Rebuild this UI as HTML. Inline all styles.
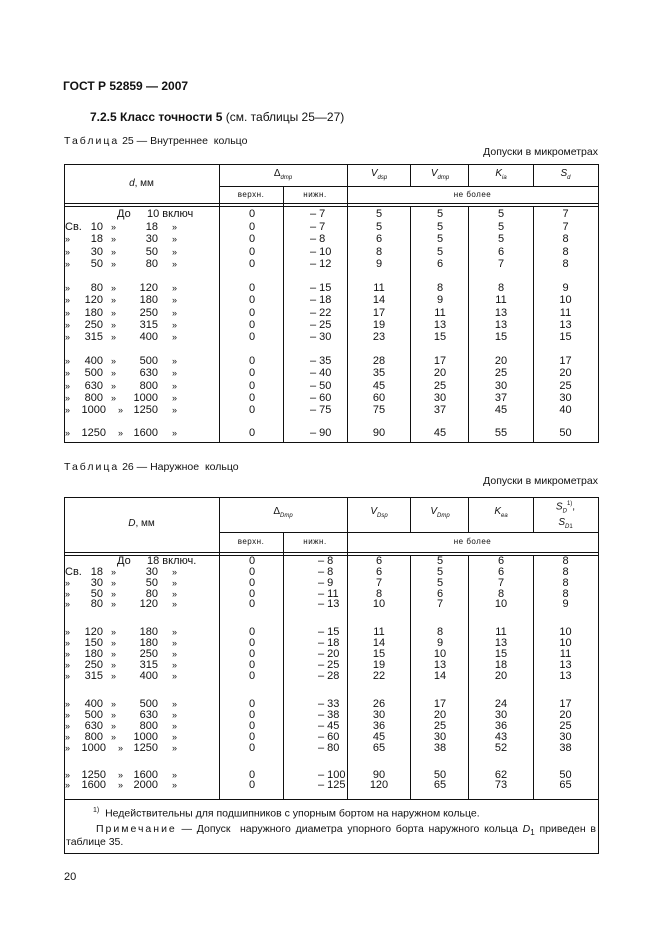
<!DOCTYPE html>
<html><head><meta charset="utf-8"><style>
body{margin:0;width:661px;height:936px;background:#fff;position:relative;font-family:"Liberation Sans",sans-serif;color:#111;overflow:hidden}
.t{position:absolute;white-space:nowrap;font-size:11px;line-height:14px}
.h{position:absolute;background:#111;height:1px}
.v{position:absolute;background:#111;width:1px}
.r{position:absolute;left:0;width:661px;height:14px;font-size:11px;line-height:14px}
.r span{position:absolute;white-space:nowrap}
.a{left:65px}.n1{left:70px;width:33px;text-align:right}.q1{left:111px}.n2{left:118px;width:40px;text-align:right}.q2{left:172px}
.v1{left:221px;width:62px;text-align:center}.v2{left:310px}.w2{left:318px}
.c3{left:347px;width:64px;text-align:center}.c4{left:411px;width:58px;text-align:center}.c5{left:469px;width:64px;text-align:center}.c6{left:533px;width:65px;text-align:center}
.q{font-size:9px}
.sm{position:absolute;font-size:8px;letter-spacing:0.5px;white-space:nowrap;text-align:center}
.hd{position:absolute;font-size:10px;text-align:center;white-space:nowrap}
sub{font-size:6px}
</style></head><body>
<div class="t" style="left:63px;top:79px;font-weight:bold;font-size:12px">ГОСТ Р 52859 — 2007</div>
<div class="t" style="left:90px;top:110px;font-size:12px"><b>7.2.5 Класс точности 5</b> (см. таблицы 25—27)</div>
<div class="t" style="left:64px;top:134px;font-size:10.5px"><span style="letter-spacing:2px">Таблица</span> 25 — Внутреннее&nbsp; кольцо</div>
<div class="t" style="right:63px;top:145px;font-size:10.5px">Допуски в микрометрах</div>

<div class="h" style="left:64px;width:535px;top:164px"></div>
<div class="h" style="left:219px;width:380px;top:186px"></div>
<div class="h" style="left:64px;width:535px;top:203px"></div>
<div class="h" style="left:64px;width:535px;top:206px"></div>
<div class="h" style="left:64px;width:535px;top:442px"></div>
<div class="v" style="left:64px;top:164px;height:279px"></div>
<div class="v" style="left:598px;top:164px;height:279px"></div>
<div class="v" style="left:219px;top:164px;height:279px"></div>
<div class="v" style="left:283px;top:186px;height:257px"></div>
<div class="v" style="left:347px;top:164px;height:279px"></div>
<div class="v" style="left:410px;top:164px;height:22px"></div><div class="v" style="left:410px;top:206px;height:237px"></div>
<div class="v" style="left:468px;top:164px;height:22px"></div><div class="v" style="left:468px;top:206px;height:237px"></div>
<div class="v" style="left:533px;top:164px;height:22px"></div><div class="v" style="left:533px;top:206px;height:237px"></div>
<div class="hd" style="left:64px;width:155px;top:178px"><i>d</i>, мм</div>
<div class="hd" style="left:219px;width:128px;top:168px">Δ<sub><i>dmp</i></sub></div>
<div class="hd" style="left:347px;width:64px;top:168px"><i>V</i><sub><i>dsp</i></sub></div>
<div class="hd" style="left:411px;width:58px;top:168px"><i>V</i><sub><i>dmp</i></sub></div>
<div class="hd" style="left:469px;width:64px;top:168px"><i>K</i><sub><i>ia</i></sub></div>
<div class="hd" style="left:533px;width:65px;top:168px"><i>S</i><sub><i>d</i></sub></div>
<div class="sm" style="left:219px;width:64px;top:190px">верхн.</div>
<div class="sm" style="left:283px;width:64px;top:190px">нижн.</div>
<div class="sm" style="left:347px;width:251px;top:190px">не более</div>

<div class="r" style="top:207px"><span style="left:117px">До</span><span style="left:147px">10 включ</span><span class="v1">0</span><span class="v2">– 7</span><span class="c3">5</span><span class="c4">5</span><span class="c5">5</span><span class="c6">7</span></div>
<div class="r" style="top:220px"><span class="a">Св.</span><span class="n1">10</span><span class="q1 q">»</span><span class="n2">18</span><span class="q2 q">»</span><span class="v1">0</span><span class="v2">– 7</span><span class="c3">5</span><span class="c4">5</span><span class="c5">5</span><span class="c6">7</span></div>
<div class="r" style="top:232px"><span class="a q">»</span><span class="n1">18</span><span class="q1 q">»</span><span class="n2">30</span><span class="q2 q">»</span><span class="v1">0</span><span class="v2">– 8</span><span class="c3">6</span><span class="c4">5</span><span class="c5">5</span><span class="c6">8</span></div>
<div class="r" style="top:245px"><span class="a q">»</span><span class="n1">30</span><span class="q1 q">»</span><span class="n2">50</span><span class="q2 q">»</span><span class="v1">0</span><span class="v2">– 10</span><span class="c3">8</span><span class="c4">5</span><span class="c5">6</span><span class="c6">8</span></div>
<div class="r" style="top:257px"><span class="a q">»</span><span class="n1">50</span><span class="q1 q">»</span><span class="n2">80</span><span class="q2 q">»</span><span class="v1">0</span><span class="v2">– 12</span><span class="c3">9</span><span class="c4">6</span><span class="c5">7</span><span class="c6">8</span></div>

<div class="r" style="top:281px"><span class="a q">»</span><span class="n1">80</span><span class="q1 q">»</span><span class="n2">120</span><span class="q2 q">»</span><span class="v1">0</span><span class="v2">– 15</span><span class="c3">11</span><span class="c4">8</span><span class="c5">8</span><span class="c6">9</span></div>
<div class="r" style="top:293px"><span class="a q">»</span><span class="n1">120</span><span class="q1 q">»</span><span class="n2">180</span><span class="q2 q">»</span><span class="v1">0</span><span class="v2">– 18</span><span class="c3">14</span><span class="c4">9</span><span class="c5">11</span><span class="c6">10</span></div>
<div class="r" style="top:306px"><span class="a q">»</span><span class="n1">180</span><span class="q1 q">»</span><span class="n2">250</span><span class="q2 q">»</span><span class="v1">0</span><span class="v2">– 22</span><span class="c3">17</span><span class="c4">11</span><span class="c5">13</span><span class="c6">11</span></div>
<div class="r" style="top:318px"><span class="a q">»</span><span class="n1">250</span><span class="q1 q">»</span><span class="n2">315</span><span class="q2 q">»</span><span class="v1">0</span><span class="v2">– 25</span><span class="c3">19</span><span class="c4">13</span><span class="c5">13</span><span class="c6">13</span></div>
<div class="r" style="top:330px"><span class="a q">»</span><span class="n1">315</span><span class="q1 q">»</span><span class="n2">400</span><span class="q2 q">»</span><span class="v1">0</span><span class="v2">– 30</span><span class="c3">23</span><span class="c4">15</span><span class="c5">15</span><span class="c6">15</span></div>

<div class="r" style="top:354px"><span class="a q">»</span><span class="n1">400</span><span class="q1 q">»</span><span class="n2">500</span><span class="q2 q">»</span><span class="v1">0</span><span class="v2">– 35</span><span class="c3">28</span><span class="c4">17</span><span class="c5">20</span><span class="c6">17</span></div>
<div class="r" style="top:366px"><span class="a q">»</span><span class="n1">500</span><span class="q1 q">»</span><span class="n2">630</span><span class="q2 q">»</span><span class="v1">0</span><span class="v2">– 40</span><span class="c3">35</span><span class="c4">20</span><span class="c5">25</span><span class="c6">20</span></div>
<div class="r" style="top:379px"><span class="a q">»</span><span class="n1">630</span><span class="q1 q">»</span><span class="n2">800</span><span class="q2 q">»</span><span class="v1">0</span><span class="v2">– 50</span><span class="c3">45</span><span class="c4">25</span><span class="c5">30</span><span class="c6">25</span></div>
<div class="r" style="top:391px"><span class="a q">»</span><span class="n1">800</span><span class="q1 q">»</span><span class="n2">1000</span><span class="q2 q">»</span><span class="v1">0</span><span class="v2">– 60</span><span class="c3">60</span><span class="c4">30</span><span class="c5">37</span><span class="c6">30</span></div>
<div class="r" style="top:403px"><span class="a q">»</span><span class="n1" style="width:36px">1000</span><span class="q1 q" style="left:118px">»</span><span class="n2">1250</span><span class="q2 q">»</span><span class="v1">0</span><span class="v2">– 75</span><span class="c3">75</span><span class="c4">37</span><span class="c5">45</span><span class="c6">40</span></div>

<div class="r" style="top:426px"><span class="a q">»</span><span class="n1" style="width:36px">1250</span><span class="q1 q" style="left:118px">»</span><span class="n2">1600</span><span class="q2 q">»</span><span class="v1">0</span><span class="v2">– 90</span><span class="c3">90</span><span class="c4">45</span><span class="c5">55</span><span class="c6">50</span></div>

<div class="t" style="left:64px;top:460px;font-size:10.5px"><span style="letter-spacing:2px">Таблица</span> 26 — Наружное&nbsp; кольцо</div>
<div class="t" style="right:63px;top:474px;font-size:10.5px">Допуски в микрометрах</div>

<div class="h" style="left:64px;width:535px;top:497px"></div>
<div class="h" style="left:219px;width:380px;top:532px"></div>
<div class="h" style="left:64px;width:535px;top:552px"></div>
<div class="h" style="left:64px;width:535px;top:555px"></div>
<div class="h" style="left:64px;width:535px;top:799px"></div>
<div class="h" style="left:64px;width:535px;top:853px"></div>
<div class="v" style="left:64px;top:497px;height:357px"></div>
<div class="v" style="left:598px;top:497px;height:357px"></div>
<div class="v" style="left:219px;top:497px;height:302px"></div>
<div class="v" style="left:283px;top:532px;height:267px"></div>
<div class="v" style="left:347px;top:497px;height:302px"></div>
<div class="v" style="left:410px;top:497px;height:35px"></div><div class="v" style="left:410px;top:555px;height:244px"></div>
<div class="v" style="left:468px;top:497px;height:35px"></div><div class="v" style="left:468px;top:555px;height:244px"></div>
<div class="v" style="left:533px;top:497px;height:35px"></div><div class="v" style="left:533px;top:555px;height:244px"></div>
<div class="hd" style="left:64px;width:155px;top:518px"><i>D</i>, мм</div>
<div class="hd" style="left:219px;width:128px;top:506px">Δ<sub><i>Dmp</i></sub></div>
<div class="hd" style="left:347px;width:64px;top:506px"><i>V</i><sub><i>Dsp</i></sub></div>
<div class="hd" style="left:411px;width:58px;top:506px"><i>V</i><sub><i>Dmp</i></sub></div>
<div class="hd" style="left:469px;width:64px;top:506px"><i>K</i><sub><i>ea</i></sub></div>
<div class="hd" style="left:533px;width:65px;top:498px;line-height:12px"><i>S</i><sub><i>D</i></sub><sup style="font-size:6px">1)</sup>,<br><i>S</i><sub><i>D</i>1</sub></div>
<div class="sm" style="left:219px;width:64px;top:537px">верхн.</div>
<div class="sm" style="left:283px;width:64px;top:537px">нижн.</div>
<div class="sm" style="left:347px;width:251px;top:537px">не более</div>

<div class="r" style="top:554px"><span style="left:117px">До</span><span style="left:147px">18 включ.</span><span class="v1">0</span><span class="w2">– 8</span><span class="c3">6</span><span class="c4">5</span><span class="c5">6</span><span class="c6">8</span></div>
<div class="r" style="top:565px"><span class="a">Св.</span><span class="n1">18</span><span class="q1 q">»</span><span class="n2">30</span><span class="q2 q">»</span><span class="v1">0</span><span class="w2">– 8</span><span class="c3">6</span><span class="c4">5</span><span class="c5">6</span><span class="c6">8</span></div>
<div class="r" style="top:576px"><span class="a q">»</span><span class="n1">30</span><span class="q1 q">»</span><span class="n2">50</span><span class="q2 q">»</span><span class="v1">0</span><span class="w2">– 9</span><span class="c3">7</span><span class="c4">5</span><span class="c5">7</span><span class="c6">8</span></div>
<div class="r" style="top:587px"><span class="a q">»</span><span class="n1">50</span><span class="q1 q">»</span><span class="n2">80</span><span class="q2 q">»</span><span class="v1">0</span><span class="w2">– 11</span><span class="c3">8</span><span class="c4">6</span><span class="c5">8</span><span class="c6">8</span></div>
<div class="r" style="top:597px"><span class="a q">»</span><span class="n1">80</span><span class="q1 q">»</span><span class="n2">120</span><span class="q2 q">»</span><span class="v1">0</span><span class="w2">– 13</span><span class="c3">10</span><span class="c4">7</span><span class="c5">10</span><span class="c6">9</span></div>

<div class="r" style="top:625px"><span class="a q">»</span><span class="n1">120</span><span class="q1 q">»</span><span class="n2">180</span><span class="q2 q">»</span><span class="v1">0</span><span class="w2">– 15</span><span class="c3">11</span><span class="c4">8</span><span class="c5">11</span><span class="c6">10</span></div>
<div class="r" style="top:636px"><span class="a q">»</span><span class="n1">150</span><span class="q1 q">»</span><span class="n2">180</span><span class="q2 q">»</span><span class="v1">0</span><span class="w2">– 18</span><span class="c3">14</span><span class="c4">9</span><span class="c5">13</span><span class="c6">10</span></div>
<div class="r" style="top:647px"><span class="a q">»</span><span class="n1">180</span><span class="q1 q">»</span><span class="n2">250</span><span class="q2 q">»</span><span class="v1">0</span><span class="w2">– 20</span><span class="c3">15</span><span class="c4">10</span><span class="c5">15</span><span class="c6">11</span></div>
<div class="r" style="top:658px"><span class="a q">»</span><span class="n1">250</span><span class="q1 q">»</span><span class="n2">315</span><span class="q2 q">»</span><span class="v1">0</span><span class="w2">– 25</span><span class="c3">19</span><span class="c4">13</span><span class="c5">18</span><span class="c6">13</span></div>
<div class="r" style="top:669px"><span class="a q">»</span><span class="n1">315</span><span class="q1 q">»</span><span class="n2">400</span><span class="q2 q">»</span><span class="v1">0</span><span class="w2">– 28</span><span class="c3">22</span><span class="c4">14</span><span class="c5">20</span><span class="c6">13</span></div>

<div class="r" style="top:697px"><span class="a q">»</span><span class="n1">400</span><span class="q1 q">»</span><span class="n2">500</span><span class="q2 q">»</span><span class="v1">0</span><span class="w2">– 33</span><span class="c3">26</span><span class="c4">17</span><span class="c5">24</span><span class="c6">17</span></div>
<div class="r" style="top:708px"><span class="a q">»</span><span class="n1">500</span><span class="q1 q">»</span><span class="n2">630</span><span class="q2 q">»</span><span class="v1">0</span><span class="w2">– 38</span><span class="c3">30</span><span class="c4">20</span><span class="c5">30</span><span class="c6">20</span></div>
<div class="r" style="top:719px"><span class="a q">»</span><span class="n1">630</span><span class="q1 q">»</span><span class="n2">800</span><span class="q2 q">»</span><span class="v1">0</span><span class="w2">– 45</span><span class="c3">36</span><span class="c4">25</span><span class="c5">36</span><span class="c6">25</span></div>
<div class="r" style="top:730px"><span class="a q">»</span><span class="n1">800</span><span class="q1 q">»</span><span class="n2">1000</span><span class="q2 q">»</span><span class="v1">0</span><span class="w2">– 60</span><span class="c3">45</span><span class="c4">30</span><span class="c5">43</span><span class="c6">30</span></div>
<div class="r" style="top:741px"><span class="a q">»</span><span class="n1" style="width:36px">1000</span><span class="q1 q" style="left:118px">»</span><span class="n2">1250</span><span class="q2 q">»</span><span class="v1">0</span><span class="w2">– 80</span><span class="c3">65</span><span class="c4">38</span><span class="c5">52</span><span class="c6">38</span></div>

<div class="r" style="top:768px"><span class="a q">»</span><span class="n1" style="width:36px">1250</span><span class="q1 q" style="left:118px">»</span><span class="n2">1600</span><span class="q2 q">»</span><span class="v1">0</span><span class="w2">– 100</span><span class="c3">90</span><span class="c4">50</span><span class="c5">62</span><span class="c6">50</span></div>
<div class="r" style="top:778px"><span class="a q">»</span><span class="n1" style="width:36px">1600</span><span class="q1 q" style="left:118px">»</span><span class="n2">2000</span><span class="q2 q">»</span><span class="v1">0</span><span class="w2">– 125</span><span class="c3">120</span><span class="c4">65</span><span class="c5">73</span><span class="c6">65</span></div>

<div class="t" style="left:93px;top:804px;font-size:10.5px"><sup style="font-size:7px">1)</sup>&nbsp; Недействительны для подшипников с упорным бортом на наружном кольце.</div>
<div class="t" style="left:96px;top:822px;font-size:10.5px;width:500px;white-space:normal;text-align:justify;text-align-last:justify"><span style="letter-spacing:2px">Примечание</span> — Допуск&nbsp; наружного диаметра упорного борта наружного кольца <i>D</i><sub style="font-size:8px">1</sub> приведен в</div>
<div class="t" style="left:66px;top:835px;font-size:10.5px">таблице 35.</div>
<div class="t" style="left:64px;top:870px;font-size:11px">20</div>
</body></html>
